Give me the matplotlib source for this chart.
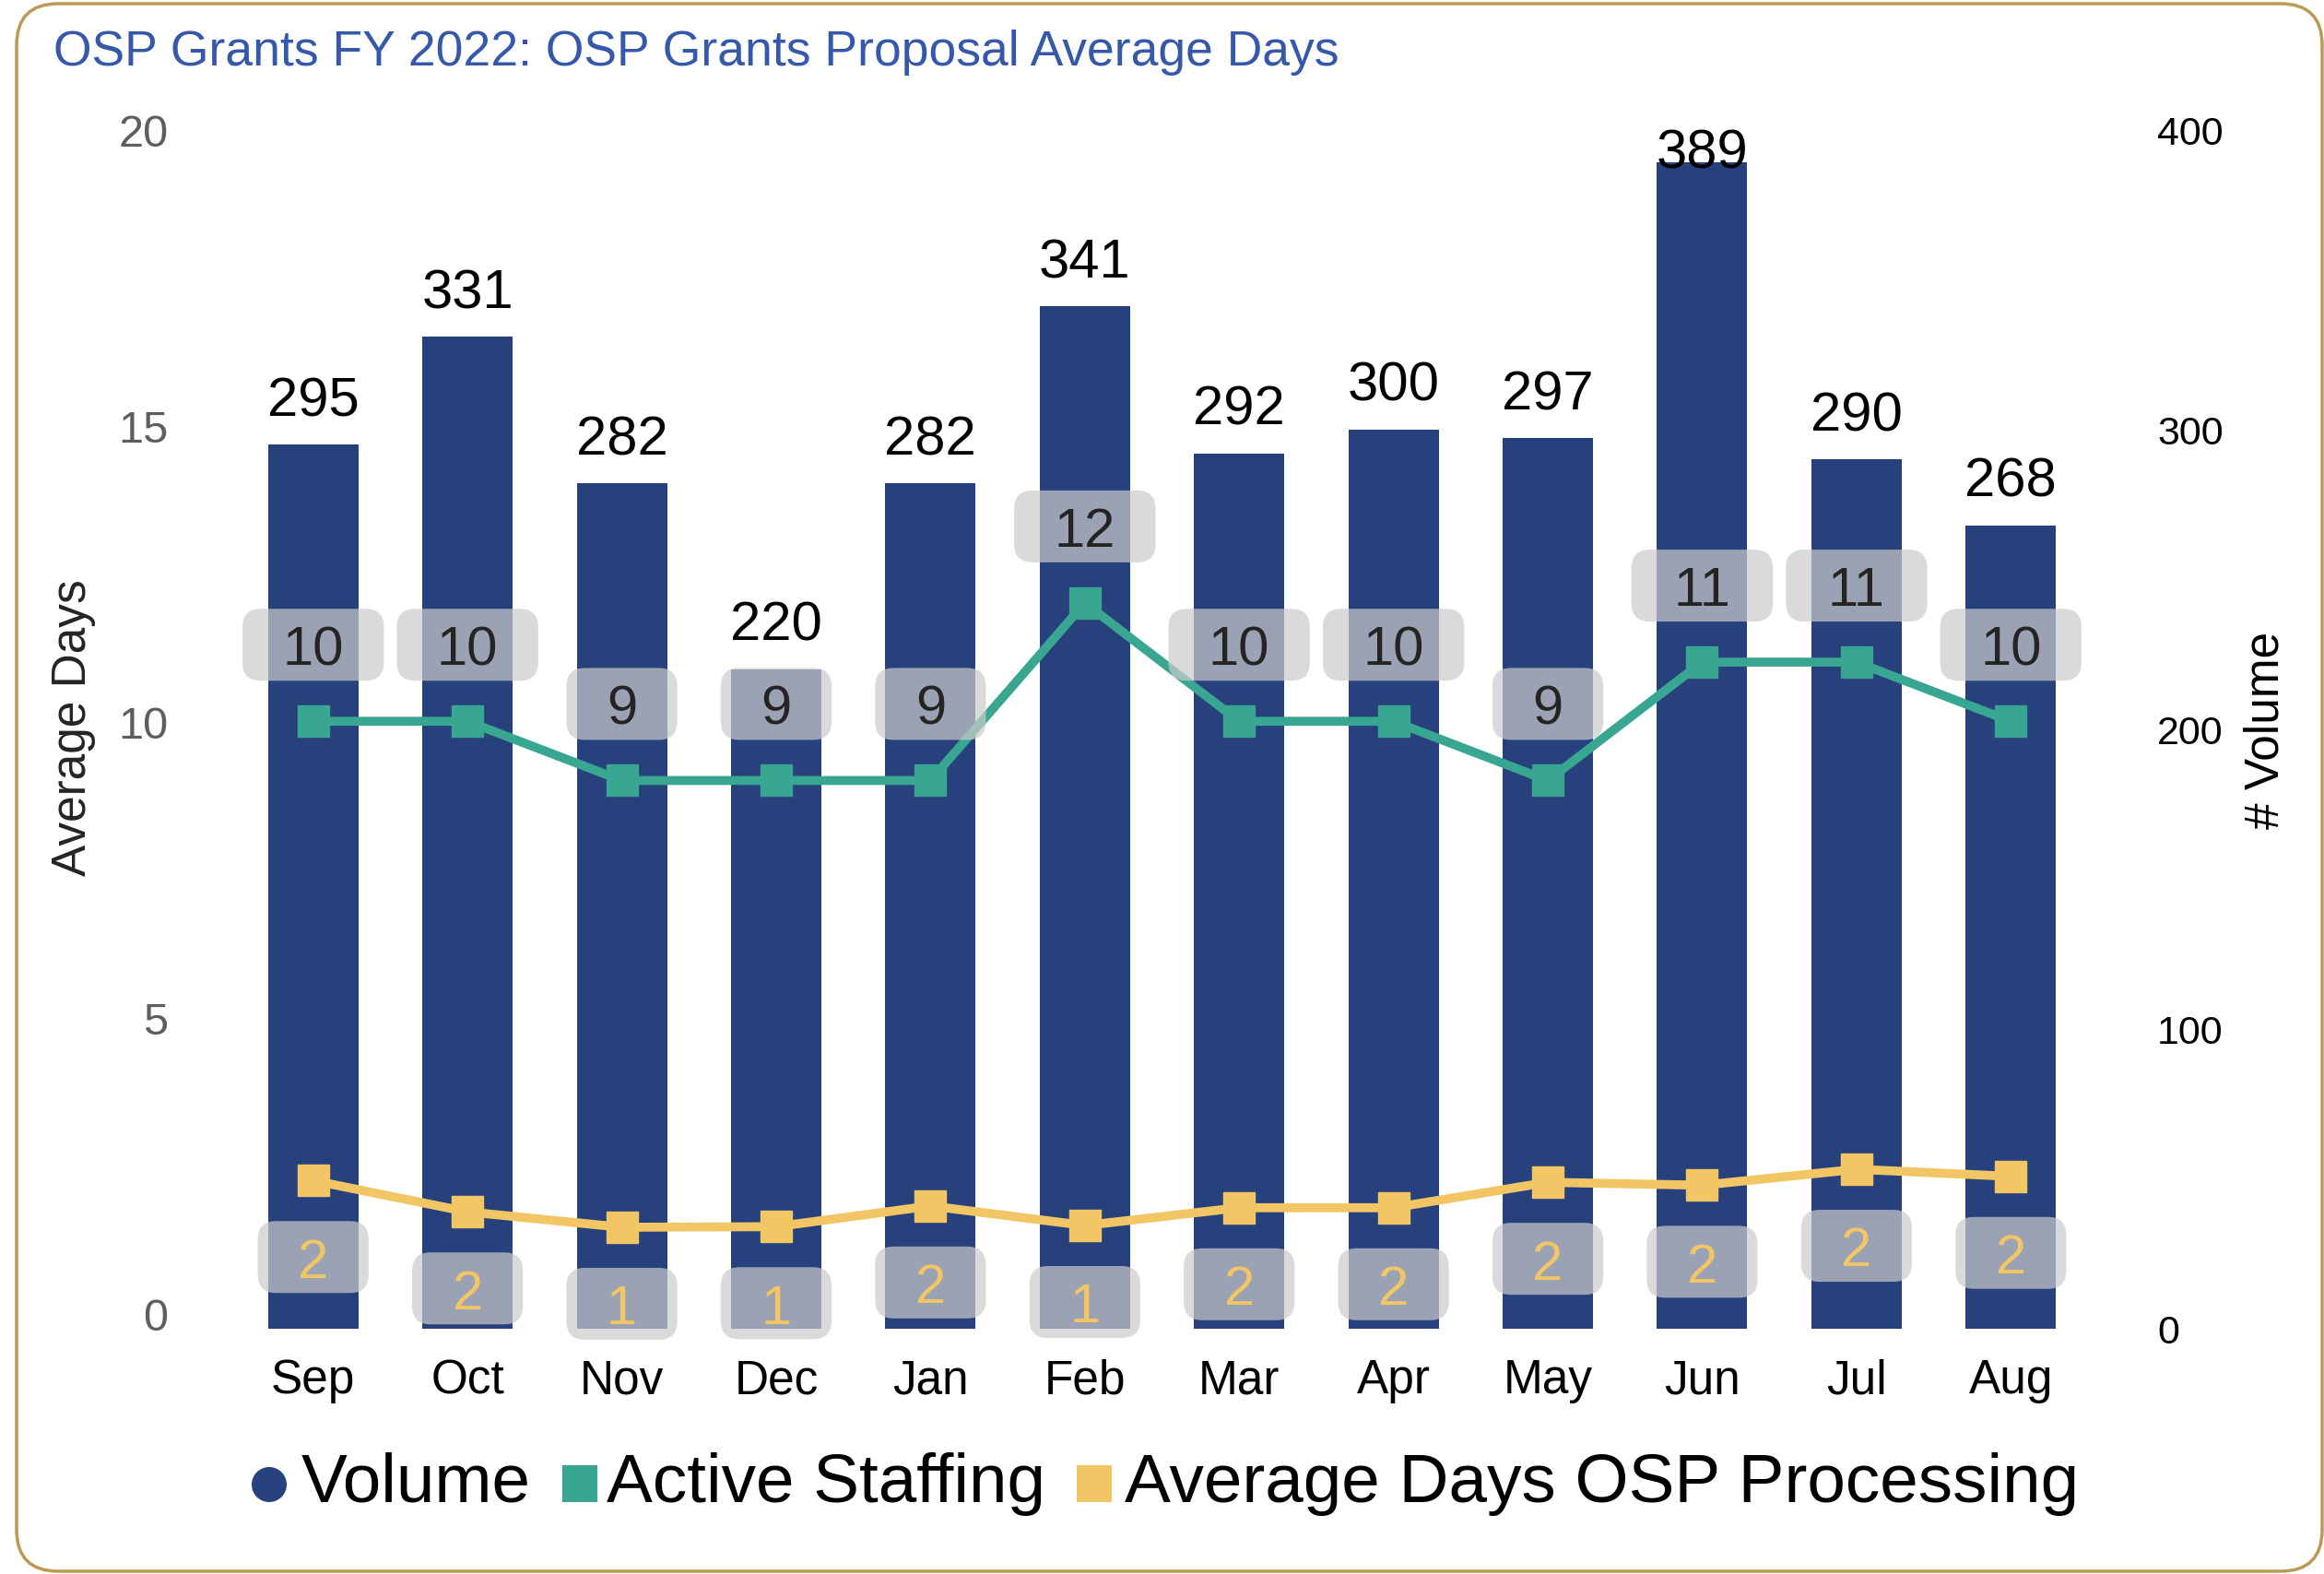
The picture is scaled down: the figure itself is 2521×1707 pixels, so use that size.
import matplotlib
matplotlib.use("Agg")
import matplotlib.pyplot as plt
import matplotlib.transforms as mtransforms
from matplotlib.patches import FancyBboxPatch, Circle, Rectangle
import numpy as np

plt.rcParams['font.family'] = ['Liberation Sans', 'DejaVu Sans']

# ---------------- data ----------------
months = ["Sep", "Oct", "Nov", "Dec", "Jan", "Feb", "Mar", "Apr", "May", "Jun", "Jul", "Aug"]
volume = [295, 331, 282, 220, 282, 341, 292, 300, 297, 389, 290, 268]
active_staffing = [10, 10, 9, 9, 9, 12, 10, 10, 9, 11, 11, 10]
avg_days_osp = [2.24, 1.71, 1.45, 1.46, 1.81, 1.48, 1.78, 1.78, 2.21, 2.16, 2.43, 2.31]
volume_ticks = [0, 100, 200, 300, 400]
days_ticks = [0, 5, 10, 15, 20]
title = "OSP Grants FY 2022: OSP Grants Proposal Average Days"
legend_labels = ["Volume", "Active Staffing", "Average Days OSP Processing"]

# ---------------- style ----------------
BLUE = "#27417C"
TEAL = "#38A690"
YELLOW = "#F3C665"
TITLE_C = "#3658A8"
GOLD = "#BC9A55"
DARK = "#252423"
GRAY = "#605E5C"

W, H = 2521, 1708
fig = plt.figure(figsize=(W / 100, H / 100), dpi=100)
ident = mtransforms.IdentityTransform()

ax_l, ax_r, ax_t, ax_b = 256, 2265, 141.5, 1441.5
ax = fig.add_axes([ax_l / W, 1 - ax_b / H, (ax_r - ax_l) / W, (ax_b - ax_t) / H])
ax2 = ax.twinx()

x = np.arange(len(months))
ax.bar(x, volume, width=0.585, color=BLUE, zorder=1)
ax.set_xlim(-0.5, 11.5)
ax.set_ylim(0, 400)
ax.yaxis.tick_right()
ax.yaxis.set_label_position('right')
ax.set_yticks(volume_ticks)
ax.tick_params(axis='y', which='both', left=False, right=False, labelleft=False,
               labelright=True, length=0, pad=54, labelsize=31, labelcolor="black")
for lab in ax.get_yticklabels():
    lab.set_horizontalalignment('left')
ax.set_xticks(x)
ax.set_xticklabels(months)
ax.tick_params(axis='x', length=0, pad=23, labelsize=37, labelcolor="black")
for s in ax.spines.values():
    s.set_visible(False)

ax2.set_ylim(-0.257, 20)
ax2.yaxis.tick_left()
ax2.yaxis.set_label_position('left')
ax2.set_yticks(days_ticks)
ax2.tick_params(axis='y', which='both', left=False, right=False, labelleft=True,
                labelright=False, length=0, pad=53, labelsize=35, labelcolor=GRAY)
for s in ax2.spines.values():
    s.set_visible(False)

ax2.plot(x, active_staffing, color=TEAL, lw=7, marker='s', ms=24.5, zorder=2)
ax2.plot(x, avg_days_osp, color=YELLOW, lw=7, marker='s', ms=24.5, zorder=2)

# ---------------- labels ----------------
fs_lab = 43
em = fs_lab * 100 / 72
cap = 0.716 * em

# volume labels
top_disp = ax.transData.transform((0, 400))[1]
for i, v in enumerate(volume):
    px, py = ax.transData.transform((i, v))
    yc = min(py + 53, top_disp - 20)
    ax.text(px, yc - cap / 2, str(v), transform=ident, ha='center', va='baseline',
            fontsize=fs_lab, color="black", zorder=5)


def boxed_label(axis, i, val, dy, color):
    px, py = axis.transData.transform((i, val))
    yc = py + dy
    s = str(int(round(val)))
    bw = len(s) * 0.556 * em + 87
    bh = 78
    box = FancyBboxPatch((px - bw / 2, yc - bh / 2), bw, bh,
                         boxstyle="round,pad=0,rounding_size=20",
                         transform=ident, facecolor=(203 / 255, 203 / 255, 203 / 255),
                         alpha=0.71, edgecolor='none', zorder=6, clip_on=False)
    axis.add_patch(box)
    axis.text(px, yc - cap / 2, s, transform=ident, ha='center', va='baseline',
              fontsize=fs_lab, color=color, zorder=7, clip_on=False)


for i, v in enumerate(active_staffing):
    boxed_label(ax2, i, v, 83, DARK)
for i, v in enumerate(avg_days_osp):
    boxed_label(ax2, i, v, -83, YELLOW)

# axis titles
fig.text(80 / W, 1 - 789 / H, "Average Days", rotation=90, ha='center', va='center',
         fontsize=37, color=DARK)
fig.text(2458 / W, 1 - 792 / H, "# Volume", rotation=90, ha='center', va='center',
         fontsize=37, color="black")

# title
fig.text(58 / W, 1 - 71 / H, title, ha='left', va='baseline', fontsize=38.5, color=TITLE_C)

# legend (manual)
base = 1 - 1629 / H
fs_leg = 53.8
fig.add_artist(Circle((292, H - 1611), 19, transform=ident, facecolor=BLUE, edgecolor='none'))
fig.text(327 / W, base, legend_labels[0], ha='left', va='baseline', fontsize=fs_leg, color="black")
fig.add_artist(Rectangle((610, H - 1630), 38, 40, transform=ident, facecolor=TEAL, edgecolor='none'))
fig.text(658 / W, base, legend_labels[1], ha='left', va='baseline', fontsize=fs_leg, color="black")
fig.add_artist(Rectangle((1168, H - 1630), 38, 40, transform=ident, facecolor=YELLOW, edgecolor='none'))
fig.text(1220 / W, base, legend_labels[2], ha='left', va='baseline', fontsize=fs_leg, color="black")

# border
fig.add_artist(FancyBboxPatch((18, H - 1705), 2501, 1700, boxstyle="round,pad=0,rounding_size=45",
                              transform=ident, facecolor='none', edgecolor=GOLD, lw=2.5))

fig.savefig("out.png", dpi=100)
